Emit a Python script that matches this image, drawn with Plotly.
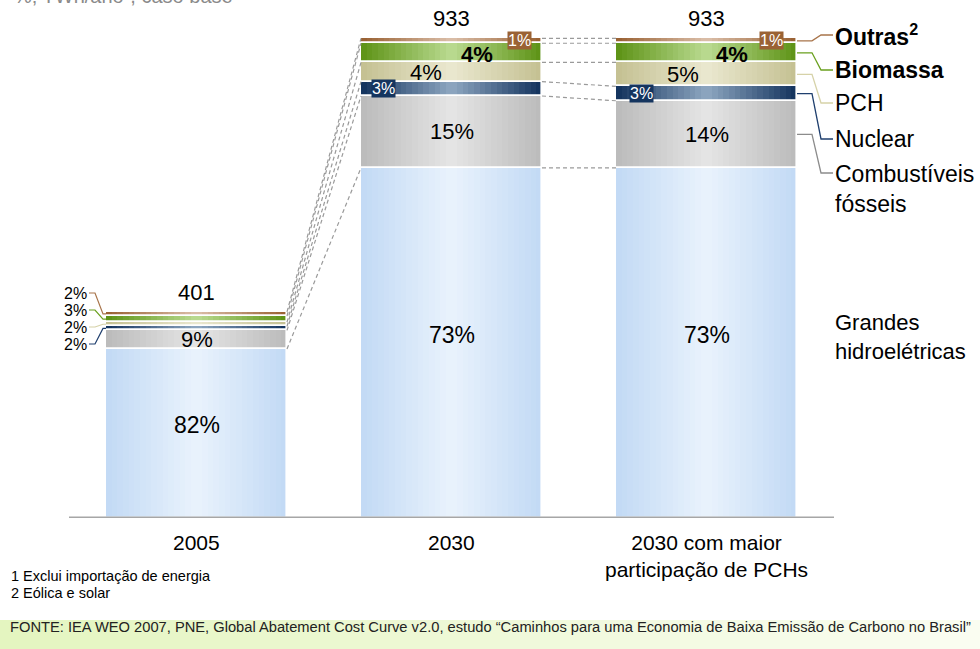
import plotly.graph_objects as go

# ---- data -------------------------------------------------------------
categories = ["2005", "2030", "2030 com maior<br>participação de PCHs"]
totals = [401, 933, 933]  # TWh/ano

segment_names = ["Grandes<br>hidroelétricas", "Combustíveis<br>fósseis", "Nuclear",
                 "PCH", "<b>Biomassa</b>", "<b>Outras<sup>2</sup></b>"]
share_hidro = [82, 73, 73]
share_fosseis = [9, 15, 14]
share_nuclear = [2, 3, 3]
share_pch = [2, 4, 5]
share_biomassa = [3, 4, 4]
share_outras = [2, 1, 1]

shares = [share_hidro, share_fosseis, share_nuclear, share_pch, share_biomassa, share_outras]

footnotes = ["1 Exclui importação de energia", "2 Eólica e solar"]
source = ("FONTE: IEA WEO 2007, PNE, Global Abatement Cost Curve v2.0, estudo "
          "“Caminhos para uma Economia de Baixa Emissão de Carbono no Brasil”")
subtitle = "%; TWh/ano¹, caso base"

# ---- styling ------------------------------------------------------------
edge_colors = ["#c3daf5", "#bcbcbc", "#15355f", "#c5c193", "#5f9418", "#9a6234"]
center_colors = ["#e8f2fc", "#e4e4e4", "#8ba4be", "#e9e7ce", "#b8d98e", "#d9bca6"]
line_colors = ["#c3daf5", "#8c8c8c", "#1f3f6e", "#d6d2a8", "#6aa01e", "#a8744a"]

FONT = "Liberation Sans, Arial, sans-serif"

W_PX, H_PX = 980, 649
TOP, ZERO, YMAX = 4, 518, 1000
PXY = (ZERO - TOP) / YMAX          # pixels per TWh
STEP = 255                          # pixels between category centres
X0 = -196.5 / STEP
X1 = X0 + W_PX / STEP
BAR_W = 181 / STEP


def yd(py):
    return (ZERO - py) / PXY


def ypaper(py):
    return (ZERO - py) / (ZERO - TOP)


def xd(px):
    return X0 + px / STEP


def xpx(x):
    return (x - X0) * STEP


def hexmix(a, b, t):
    a = [int(a[i:i + 2], 16) for i in (1, 3, 5)]
    b = [int(b[i:i + 2], 16) for i in (1, 3, 5)]
    return "#" + "".join(f"{round(a[k] + (b[k] - a[k]) * t):02x}" for k in range(3))


# segment heights (TWh) and stacking bases
xs = list(range(len(categories)))
values = [[t * s[i] / 100 for i, t in enumerate(totals)] for s in shares]
bases = []
run = [0.0] * len(totals)
for v in values:
    bases.append(list(run))
    run = [run[i] + v[i] for i in xs]
tops = [[bases[j][i] + values[j][i] for i in xs] for j in range(len(values))]
mids = [[bases[j][i] + values[j][i] / 2 for i in xs] for j in range(len(values))]

fig = go.Figure()

# bars with a horizontal shading: nested bars, lighter towards the centre
N_LAYERS = 16
for j, v in enumerate(values):
    for k in range(N_LAYERS):
        frac = 1 - k / N_LAYERS
        fig.add_trace(go.Bar(
            x=xs, y=v, base=bases[j], width=BAR_W * frac,
            marker=dict(color=hexmix(edge_colors[j], center_colors[j], k / (N_LAYERS - 1)),
                        line=dict(width=0)),
            hoverinfo="skip", showlegend=False))

# white separators between segments
for j, v in enumerate(values):
    fig.add_trace(go.Bar(
        x=xs, y=v, base=bases[j], width=BAR_W,
        marker=dict(color="rgba(0,0,0,0)", line=dict(color="white", width=1.6)),
        hoverinfo="skip", showlegend=False))

# dashed connectors between neighbouring bars
for i in range(len(xs) - 1):
    for j in range(len(values)):
        fig.add_trace(go.Scatter(
            x=[xs[i] + BAR_W / 2, xs[i + 1] - BAR_W / 2],
            y=[tops[j][i], tops[j][i + 1]],
            mode="lines", line=dict(color="#9a9a9a", width=1.2, dash="4px,3px"),
            hoverinfo="skip", showlegend=False))

ann = []


def label(x, y, text, size=22, color="black", family=FONT, **kw):
    d = dict(x=x, y=y, text=text, showarrow=False,
             font=dict(family=family, size=size, color=color))
    d.update(kw)
    ann.append(d)


# totals above the bars
for i in xs:
    label(i, totals[i], str(totals[i]), size=22, yanchor="bottom", yshift=5)

# category labels under the axis
for i in xs:
    label(i, ypaper(529), categories[i], size=21, yref="paper", yanchor="top")

# large segments: centred labels
for i in xs:
    label(i, mids[0][i], f"{share_hidro[i]}%", size=23, yshift=8)
    label(i, mids[1][i], f"{share_fosseis[i]}%", size=22)

# 2005: small segments labelled on the left with leaders
left_label_py = {5: 293, 4: 310, 3: 327, 2: 344}
bar_left = xpx(0 - BAR_W / 2)
for j, py in left_label_py.items():
    label(xd(89), yd(py), f"{shares[j][0]}%", size=16, xanchor="right")
    fig.add_trace(go.Scatter(
        x=[xd(89), xd(95), xd(bar_left - 3), xd(bar_left)],
        y=[yd(py), yd(py), mids[j][0], mids[j][0]],
        mode="lines", line=dict(color=line_colors[j], width=1.2),
        hoverinfo="skip", showlegend=False))

# 2030 bars: labels inside the thin segments
for i, off in zip([1, 2], [(68, 25, -26, -68), (65, 25, -24, -65)]):
    label(i + off[0] / STEP, mids[5][i], f"{share_outras[i]}%", size=16, color="white",
          bgcolor=edge_colors[5], borderpad=0)
    label(i + off[1] / STEP, mids[4][i], f"<b>{share_biomassa[i]}%</b>", size=22, yshift=-2)
    label(i + off[2] / STEP, mids[3][i], f"{share_pch[i]}%", size=22)
    label(i + off[3] / STEP, mids[2][i], f"{share_nuclear[i]}%", size=16, color="white",
          bgcolor=edge_colors[2], borderpad=0)

# right-hand legend with leader lines from the last bar
last = xs[-1]
bar_right = xpx(last + BAR_W / 2)
legend_py = {5: 35, 4: 70, 3: 103, 2: 139, 1: 173}
for j, py in legend_py.items():
    fig.add_trace(go.Scatter(
        x=[xd(bar_right), xd(bar_right + 15), xd(bar_right + 24), xd(bar_right + 36)],
        y=[mids[j][last], mids[j][last], yd(py), yd(py)],
        mode="lines", line=dict(color=line_colors[j], width=1.3),
        hoverinfo="skip", showlegend=False))
for j, py in legend_py.items():
    if j == 1:
        label(xd(833), yd(py - 14.5), segment_names[j], size=23, xanchor="left",
              yanchor="top", align="left")
    else:
        label(xd(833), yd(py), segment_names[j], size=23, xanchor="left")
label(xd(833), yd(337), segment_names[0], size=22, xanchor="left", align="left")

# subtitle, footnotes and source
label(12 / W_PX, ypaper(-4), subtitle, size=20, color="#8a8a8a",
      xref="paper", yref="paper", xanchor="left", yanchor="middle")
for k, t in enumerate(footnotes):
    label(9 / W_PX, ypaper(586 + 17 * k), t, size=14.5,
          xref="paper", yref="paper", xanchor="left")
label(8 / W_PX, ypaper(637), source, size=14.7, color="#222222",
      xref="paper", yref="paper", xanchor="left")

shapes = []
# baseline
shapes.append(dict(type="line", xref="x", yref="y", x0=-0.5, x1=len(xs) - 0.5, y0=0, y1=0,
                   line=dict(color="#a6a6a6", width=3)))
# source band with a soft green fade
N_STRIPS = 49
for s in range(N_STRIPS):
    shapes.append(dict(type="rect", xref="paper", yref="paper",
                       x0=s / N_STRIPS, x1=(s + 1) / N_STRIPS + 0.002,
                       y0=ypaper(H_PX + 2), y1=ypaper(620),
                       line=dict(width=0), layer="below",
                       fillcolor=hexmix("#e4f5c0", "#fafdf1", s / (N_STRIPS - 1))))

fig.update_layout(
    width=W_PX, height=H_PX,
    margin=dict(l=0, r=0, t=TOP, b=H_PX - ZERO),
    paper_bgcolor="white", plot_bgcolor="rgba(0,0,0,0)",
    barmode="overlay", bargap=0,
    xaxis=dict(range=[X0, X1], visible=False, fixedrange=True),
    yaxis=dict(range=[0, YMAX], visible=False, fixedrange=True),
    annotations=ann, shapes=shapes, showlegend=False,
)

fig.write_html("out.html", config={"displayModeBar": False})
